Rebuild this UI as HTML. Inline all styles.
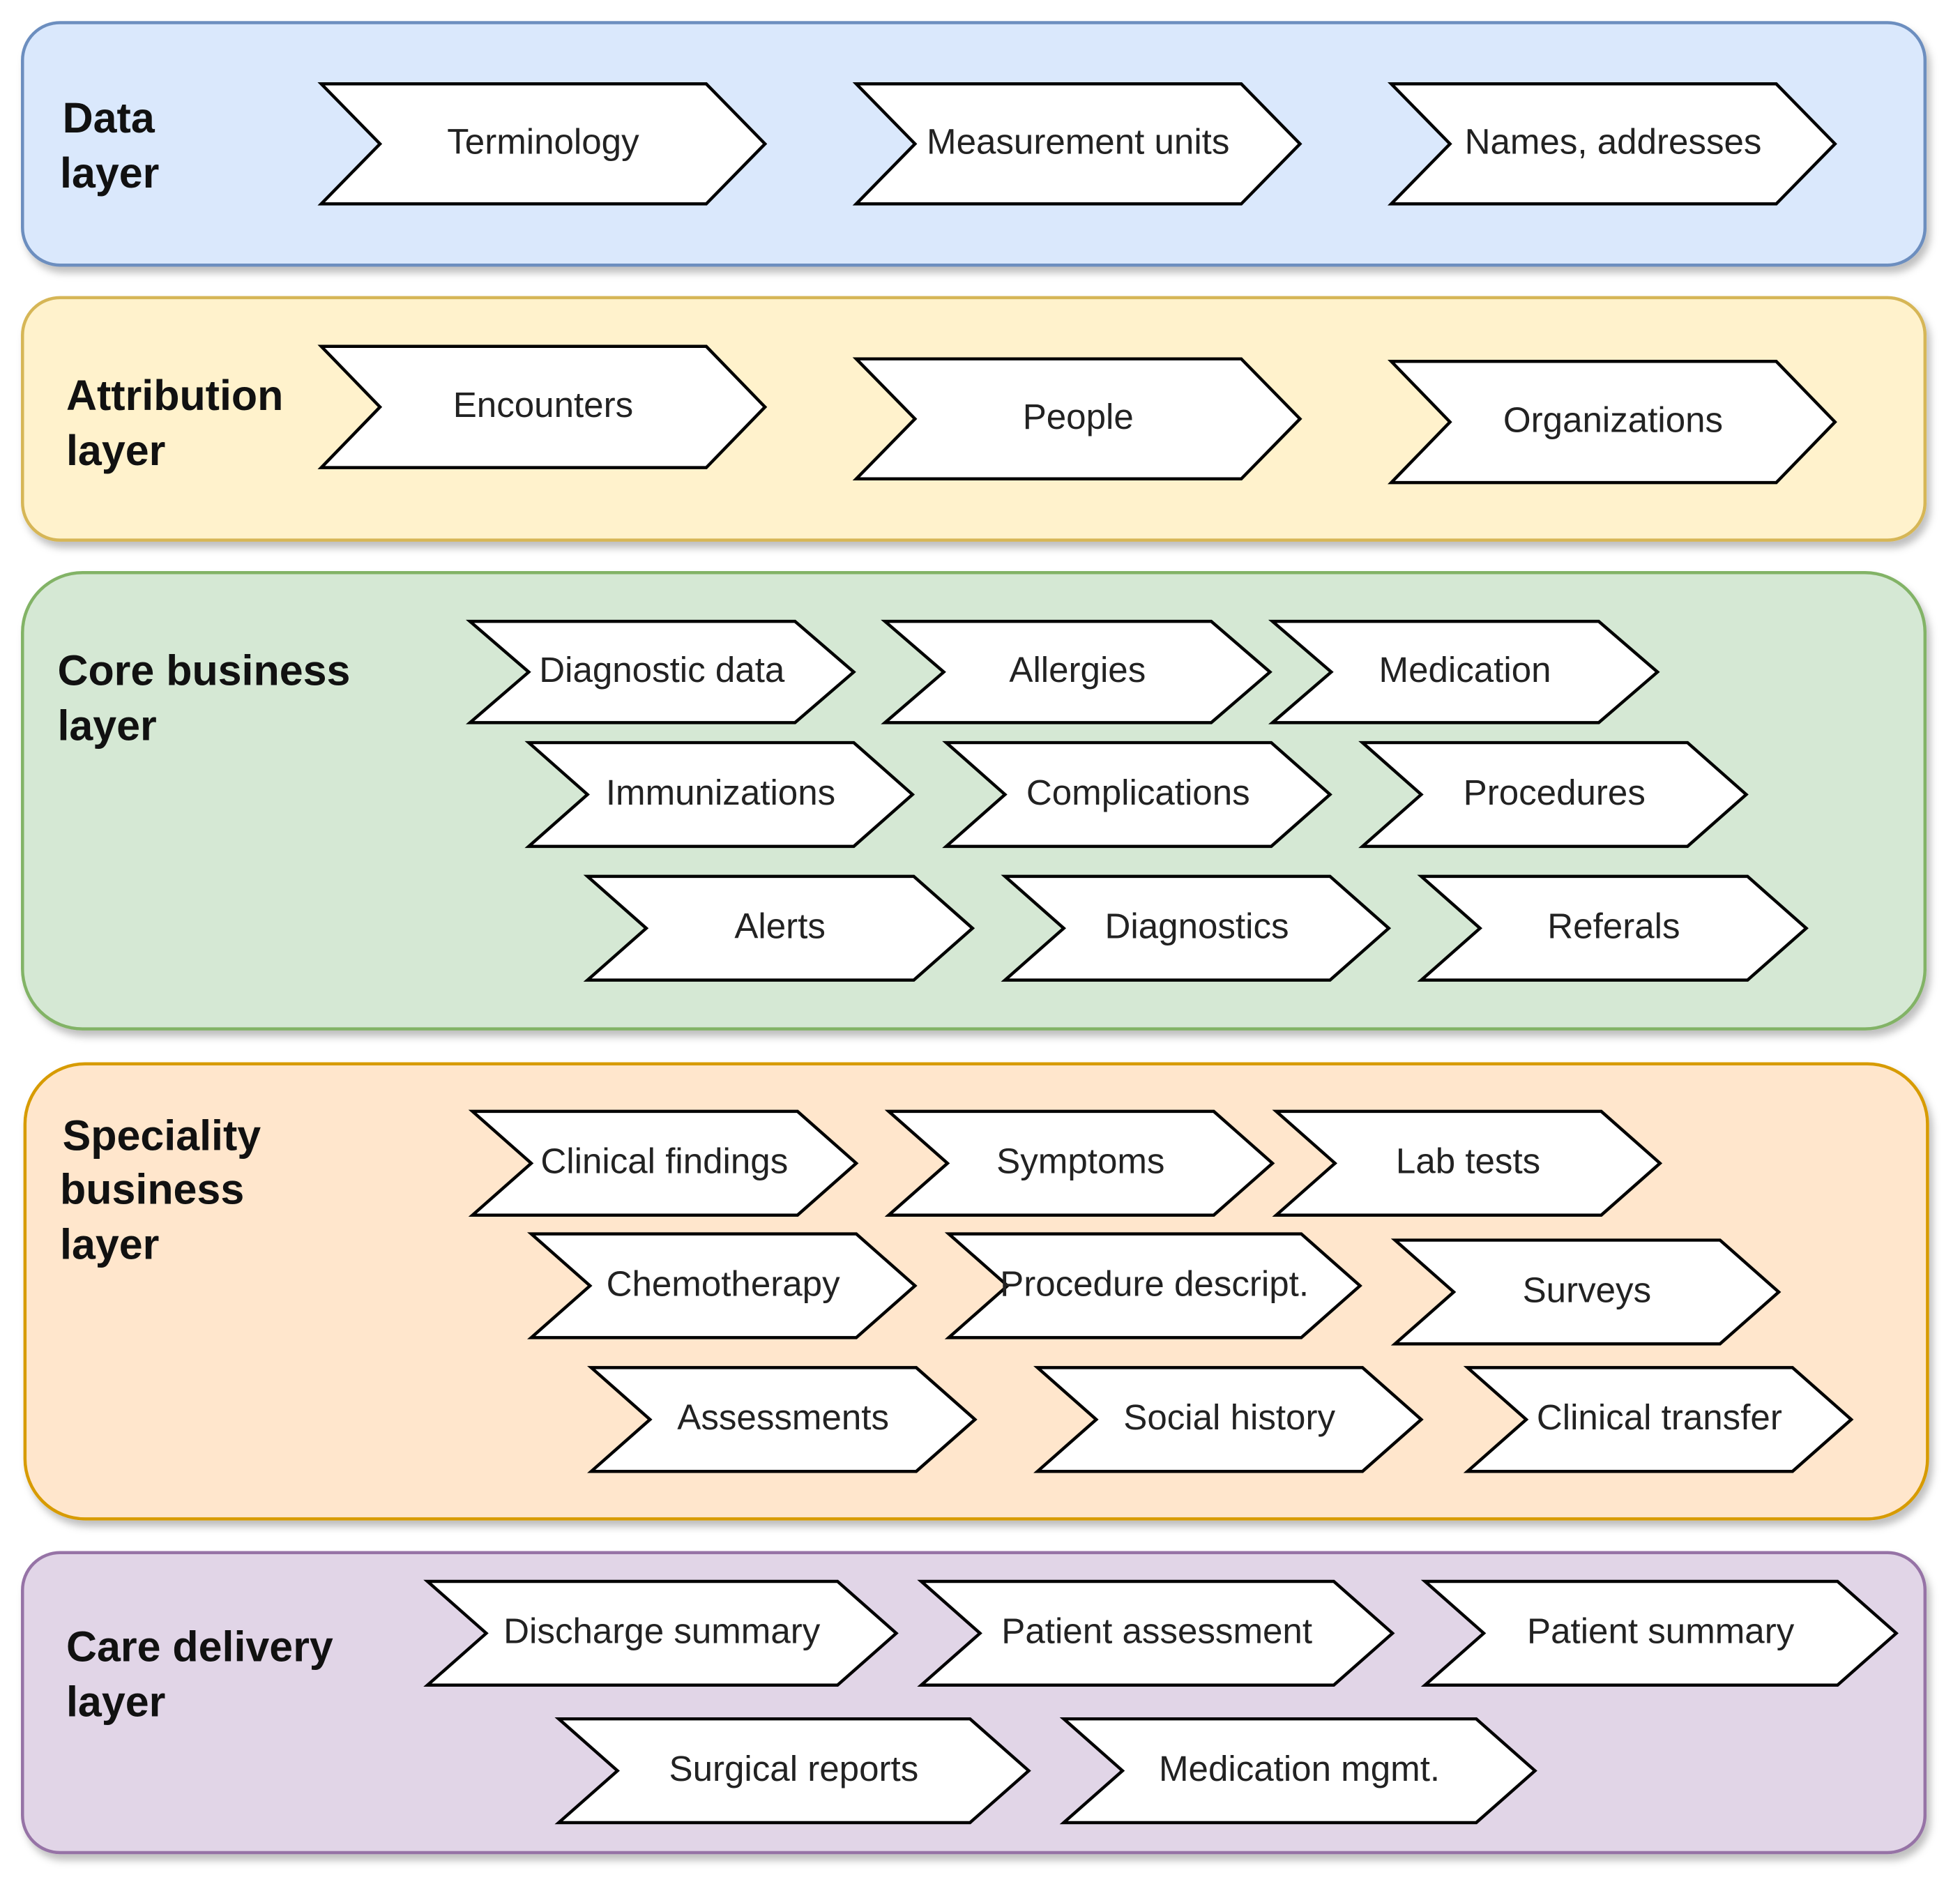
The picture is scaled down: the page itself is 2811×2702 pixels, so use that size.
<!DOCTYPE html>
<html><head><meta charset="utf-8"><style>
html,body{margin:0;padding:0;background:#fff;}
svg{display:block;}
text{font-family:"Liberation Sans",sans-serif;}
.t{font-size:28.5px;fill:#222;text-anchor:middle;}
.h{font-size:34px;font-weight:bold;fill:#111;}
</style></head><body>
<svg width="2811" height="2702" viewBox="0 0 1568 1507" xmlns="http://www.w3.org/2000/svg">
<defs>
<filter id="sh" x="-5%" y="-5%" width="110%" height="120%"><feDropShadow dx="3" dy="5" stdDeviation="3" flood-color="#000" flood-opacity="0.25"/></filter>
</defs>
<g filter="url(#sh)" stroke-width="2.5">
<rect x="18" y="18" width="1522" height="194" rx="30" fill="#dae8fc" stroke="#6c8ebf"/>
<rect x="18" y="238" width="1522" height="194" rx="30" fill="#fff2cc" stroke="#d6b656"/>
<rect x="18" y="458" width="1522" height="365" rx="48" fill="#d5e8d4" stroke="#82b366"/>
<rect x="20" y="851" width="1522" height="364" rx="48" fill="#ffe6cc" stroke="#d79b00"/>
<rect x="18" y="1242" width="1522" height="240" rx="30" fill="#e1d5e7" stroke="#9673a6"/>
</g>
<g class="h">
<text x="50" y="106">Data</text><text x="48" y="150">layer</text>
<text x="53" y="328">Attribution</text><text x="53" y="372">layer</text>
<text x="46" y="548">Core business</text><text x="46" y="592">layer</text>
<text x="50" y="920">Speciality</text><text x="48" y="963">business</text><text x="48" y="1007">layer</text>
<text x="53" y="1329">Care delivery</text><text x="53" y="1373">layer</text>
</g>
<g id="ch" fill="#fff" stroke="#000" stroke-width="2.5" stroke-linejoin="miter"></g>
<script>
var items=[
[257,612,67,163,"Terminology"],[685,1040,67,163,"Measurement units"],[1113,1468,67,163,"Names, addresses"],
[257,612,277,374,"Encounters"],[685,1040,287,383,"People"],[1113,1468,289,386,"Organizations"],
[376,683,497,578,"Diagnostic data"],[708,1016,497,578,"Allergies"],[1018,1326,497,578,"Medication"],
[423,730,594,677,"Immunizations"],[757,1064,594,677,"Complications"],[1090,1397,594,677,"Procedures"],
[470,778,701,784,"Alerts"],[804,1111,701,784,"Diagnostics"],[1137,1445,701,784,"Referals"],
[378,685,889,972,"Clinical findings"],[711,1018,889,972,"Symptoms"],[1021,1328,889,972,"Lab tests"],
[425,732,987,1070,"Chemotherapy"],[759,1088,987,1070,"Procedure descript."],[1116,1423,992,1075,"Surveys"],
[473,780,1094,1177,"Assessments"],[830,1137,1094,1177,"Social history"],[1174,1481,1094,1177,"Clinical transfer"],
[342,717,1265,1348,"Discharge summary"],[737,1114,1265,1348,"Patient assessment"],[1140,1517,1265,1348,"Patient summary"],
[447,823,1375,1458,"Surgical reports"],[851,1228,1375,1458,"Medication mgmt."]];
var g=document.getElementById('ch'),ns="http://www.w3.org/2000/svg",svg=g.ownerSVGElement;
items.forEach(function(a){var l=a[0],r=a[1],t=a[2],b=a[3],m=(t+b)/2,n=47;
var p=document.createElementNS(ns,'polygon');
p.setAttribute('points',[l,t,r-n,t,r,m,r-n,b,l,b,l+n,m].join(' '));g.appendChild(p);
var tx=document.createElementNS(ns,'text');tx.setAttribute('class','t');
tx.setAttribute('x',(l+r)/2);tx.setAttribute('y',m+8);tx.textContent=a[4];svg.appendChild(tx);});
</script>
</svg>
</body></html>
